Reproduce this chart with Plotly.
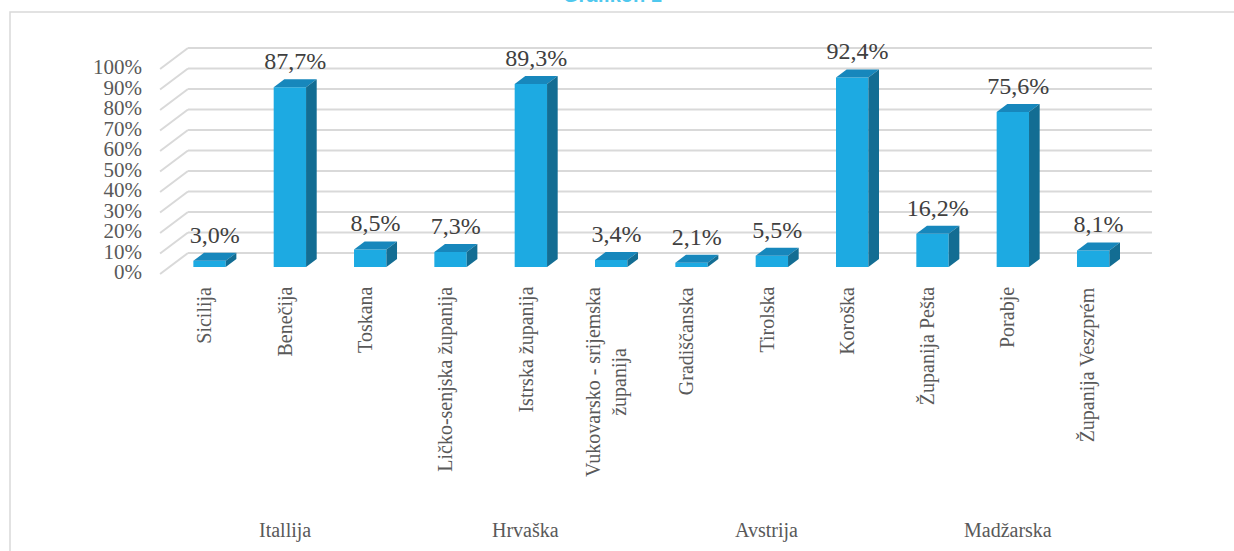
import plotly.graph_objects as go

# ---------------- data ----------------
categories = [
    "Sicilija", "Benečija", "Toskana",
    "Ličko-senjska županija", "Istrska županija", "Vukovarsko - srijemska<br>županija",
    "Gradiščanska", "Tirolska", "Koroška",
    "Županija Pešta", "Porabje", "Županija Veszprém",
]
values = [3.0, 87.7, 8.5, 7.3, 89.3, 3.4, 2.1, 5.5, 92.4, 16.2, 75.6, 8.1]
groups = ["Itallija", "Hrvaška", "Avstrija", "Madžarska"]
group_size = 3
y_ticks = list(range(0, 101, 10))
title_text = "Grafikon 1"

# ---------------- geometry / style ----------------
W, H = 1234, 551
WALL_LEFT = 188.0      # px of back wall left edge
CAT_W = 80.33          # px per category on back wall
ZERO_Y = 253.0         # px of 0 % on back wall
PX_PER_PCT = 2.05      # px per percent
SLANT = 1.33           # x shift per px of depth

FONT = "Liberation Serif"
FRONT = "#1DAAE2"
TOP = "#1787BC"
SIDE = "#136D93"
GRID = "#D9D9D9"

x_range = [(0 - WALL_LEFT) / CAT_W, (W - WALL_LEFT) / CAT_W]
y_range = [(ZERO_Y - H) / PX_PER_PCT, ZERO_Y / PX_PER_PCT]


def depth(z):
    """data offset of a point moved z px toward the viewer"""
    return -SLANT * z / CAT_W, -z / PX_PER_PCT


def px_to_y(py):
    return (ZERO_Y - py) / PX_PER_PCT


n = len(categories)
BAR_W = 0.403
dxf, dyf = depth(14)   # bar front plane
dxb, dyb = depth(6)    # bar back plane
dxw, dyw = depth(21)   # wall / floor front
dxl, dyl = depth(18)   # category labels

fig = go.Figure()

# gridlines (back wall + left wall) as shapes below the traces
shapes = []
for v in y_ticks:
    shapes.append(dict(type="line", xref="x", yref="y", x0=0, x1=n, y0=v, y1=v,
                       line=dict(color=GRID, width=2), layer="below"))
    shapes.append(dict(type="line", xref="x", yref="y", x0=dxw, x1=0,
                       y0=v + dyw, y1=v, line=dict(color=GRID, width=2), layer="below"))

# bar front faces
centers = [i + 0.5 for i in range(n)]
fig.add_trace(go.Bar(x=[c + dxf for c in centers], y=values, base=dyf,
                     width=BAR_W, marker=dict(color=FRONT, line=dict(width=0)),
                     hoverinfo="skip"))

# top and side faces
tx, ty, sx, sy = [], [], [], []
ddx = dxb - dxf
for c, v in zip(centers, values):
    xl = c + dxf - BAR_W / 2
    xr = c + dxf + BAR_W / 2
    tx += [xl, xr, xr + ddx, xl + ddx, xl, None]
    ty += [v + dyf, v + dyf, v + dyb, v + dyb, v + dyf, None]
    sx += [xr, xr, xr + ddx, xr + ddx, xr, None]
    sy += [dyf, v + dyf, v + dyb, dyb, dyf, None]
fig.add_trace(go.Scatter(x=tx, y=ty, mode="lines", fill="toself", fillcolor=TOP,
                         line=dict(width=0, color=TOP), hoverinfo="skip"))
fig.add_trace(go.Scatter(x=sx, y=sy, mode="lines", fill="toself", fillcolor=SIDE,
                         line=dict(width=0, color=SIDE), hoverinfo="skip"))

# data labels
fig.add_trace(go.Scatter(
    x=[c + (dxf + dxb) / 2 for c in centers],
    y=[v + dyb + 2 for v in values],
    mode="text",
    text=[f"{v:.1f}%".replace(".", ",") for v in values],
    textposition="top center",
    textfont=dict(family=FONT, size=24, color="#404040"),
    hoverinfo="skip"))

# y tick labels
fig.add_trace(go.Scatter(
    x=[dxw - 18 / CAT_W] * len(y_ticks),
    y=[v + dyw for v in y_ticks],
    mode="text",
    text=[f"{v}%" for v in y_ticks],
    textposition="middle left",
    textfont=dict(family=FONT, size=21, color="#595959"),
    hoverinfo="skip"))

annotations = []
# category labels
for c, name in zip(centers, categories):
    annotations.append(dict(
        x=c + dxl, y=px_to_y(285), xref="x", yref="y",
        text=name, textangle=-90, showarrow=False,
        xanchor="center", yanchor="top", align="center",
        font=dict(family=FONT, size=20, color="#595959")))
# group labels
for g, name in enumerate(groups):
    gc = sum(centers[g * group_size:(g + 1) * group_size]) / group_size
    annotations.append(dict(
        x=gc + dxl, y=px_to_y(530), xref="x", yref="y",
        text=name, showarrow=False, xanchor="center", yanchor="middle",
        font=dict(family=FONT, size=20, color="#595959")))
# title (mostly cut off at the top, as in the reference)
annotations.append(dict(
    x=612 / W, y=1 - 7.5 / H, xref="paper", yref="paper",
    text=f"<b>{title_text}</b>", showarrow=False,
    xanchor="center", yanchor="bottom",
    font=dict(family="Liberation Sans", size=20, color="#4FC8EE")))

# chart border
shapes.append(dict(type="rect", xref="paper", yref="paper",
                   x0=10 / W, x1=1.02, y0=-0.02, y1=1 - 12 / H,
                   line=dict(color=GRID, width=1.5), fillcolor="rgba(0,0,0,0)",
                   layer="below"))

fig.update_layout(
    width=W, height=H,
    margin=dict(l=0, r=0, t=0, b=0),
    paper_bgcolor="white", plot_bgcolor="white",
    showlegend=False,
    xaxis=dict(range=x_range, visible=False, fixedrange=True),
    yaxis=dict(range=y_range, visible=False, fixedrange=True),
    annotations=annotations,
    shapes=shapes,
)

fig.write_html("out.html")
